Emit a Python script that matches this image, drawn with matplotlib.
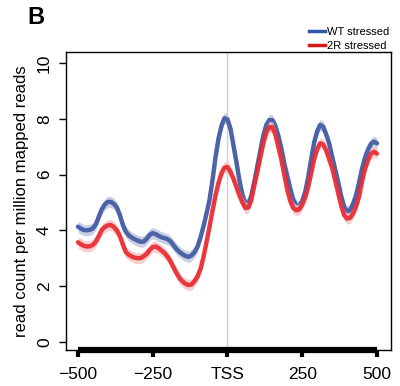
import matplotlib
matplotlib.use("Agg")
import matplotlib.pyplot as plt
from matplotlib.lines import Line2D
import numpy as np

plt.rcParams['font.family'] = ['Liberation Sans', 'DejaVu Sans']

positions = list(range(-500, 501, 10))
wt_stressed = [
    4.13, 4.06, 4.01, 4.00, 4.02, 4.07, 4.22, 4.50, 4.76, 4.93,
    5.02, 5.02, 4.95, 4.82, 4.55, 4.20, 3.95, 3.82, 3.74, 3.68,
    3.63, 3.59, 3.60, 3.70, 3.84, 3.90, 3.86, 3.80, 3.75, 3.72,
    3.68, 3.60, 3.46, 3.32, 3.22, 3.14, 3.08, 3.05, 3.10, 3.22,
    3.42, 3.75, 4.15, 4.60, 5.09, 5.80, 6.62, 7.28, 7.75, 8.02,
    7.98, 7.65, 7.05, 6.45, 5.80, 5.28, 4.95, 4.95, 5.25, 5.75,
    6.30, 6.85, 7.40, 7.78, 7.95, 7.95, 7.75, 7.40, 6.95, 6.40,
    5.95, 5.50, 5.10, 4.88, 4.87, 5.05, 5.38, 5.90, 6.55, 7.15,
    7.55, 7.78, 7.72, 7.45, 7.12, 6.65, 6.20, 5.75, 5.25, 4.85,
    4.67, 4.72, 4.95, 5.25, 5.70, 6.20, 6.60, 6.90, 7.10, 7.18,
    7.12]
r2_stressed = [
    3.57, 3.50, 3.44, 3.42, 3.43, 3.48, 3.60, 3.80, 4.02, 4.12,
    4.18, 4.19, 4.12, 4.00, 3.80, 3.50, 3.22, 3.12, 3.06, 3.02,
    3.00, 3.01, 3.07, 3.16, 3.30, 3.40, 3.42, 3.36, 3.27, 3.18,
    3.05, 2.88, 2.66, 2.46, 2.28, 2.16, 2.08, 2.04, 2.06, 2.18,
    2.35, 2.62, 3.05, 3.58, 4.13, 4.70, 5.25, 5.70, 6.05, 6.25,
    6.27, 6.10, 5.85, 5.55, 5.25, 5.00, 4.80, 4.82, 5.10, 5.62,
    6.10, 6.62, 7.12, 7.52, 7.70, 7.70, 7.45, 7.00, 6.55, 6.00,
    5.45, 5.05, 4.80, 4.72, 4.75, 4.92, 5.18, 5.55, 6.05, 6.55,
    6.92, 7.12, 7.08, 6.88, 6.55, 6.25, 5.80, 5.35, 4.90, 4.55,
    4.42, 4.45, 4.60, 4.85, 5.20, 5.75, 6.20, 6.52, 6.75, 6.82,
    6.75]
wt_err = 0.2
r2_err = 0.2
xtick_pos = [-500, -250, 0, 250, 500]
xtick_labels = ["\u2212500", "\u2212250", "TSS", "250", "500"]
ytick_pos = [0, 2, 4, 6, 8, 10]
series_names = ["WT stressed", "2R stressed"]

fig = plt.figure(figsize=(4.0, 3.86), dpi=100)
ax = fig.add_axes([0.165, 0.0933, 0.8125, 0.7717])

x = np.array(positions)
wt = np.array(wt_stressed)
r2 = np.array(r2_stressed)

ax.axvline(0, color="#cfcfcf", lw=1.0, zorder=1)

ax.fill_between(x, wt - wt_err, wt + wt_err, color="#c9d0e3", lw=0, zorder=2)
ax.plot(x, wt, color="#4d63a8", lw=3.2, solid_capstyle="round",
        solid_joinstyle="round", zorder=3)
ax.fill_between(x, r2 - r2_err, r2 + r2_err, color="#f4c3c5", lw=0,
                alpha=0.8, zorder=4)
ax.plot(x, r2, color="#e8262d", lw=3.2, solid_capstyle="round",
        solid_joinstyle="round", zorder=5, alpha=0.9)

ax.set_xlim(-540, 547)
ax.set_ylim(-0.29, 10.39)

for s in ax.spines.values():
    s.set_linewidth(1.0)
    s.set_color("black")

# thick R-style x axis line
ax.plot([-500, 500], [-0.29, -0.29], color="black", lw=4.5, clip_on=False,
        solid_capstyle="butt", zorder=6)

ax.set_xticks(xtick_pos)
ax.set_xticklabels(xtick_labels, fontsize=12.5)
ax.tick_params(axis="x", length=5, width=3, pad=7)
ax.set_yticks(ytick_pos)
ax.set_yticklabels([str(v) for v in ytick_pos], fontsize=12.5, rotation=90,
                   va="center")
ax.tick_params(axis="y", length=5, width=1, pad=5)
ax.set_ylabel("read count per million mapped reads", fontsize=12, labelpad=6)

fig.text(0.068, 0.955, "B", fontsize=17, fontweight="bold", ha="left",
         va="center")

handles = [Line2D([0], [0], color="#2f57a3", lw=2.5),
           Line2D([0], [0], color="#d7191c", lw=2.5)]
fig.legend(handles, series_names, loc="upper right",
           bbox_to_anchor=(0.988, 0.945), frameon=False, fontsize=8,
           handlelength=1.4, handletextpad=0.25, borderpad=0.0,
           labelspacing=0.35)

fig.savefig("out.png", dpi=100)
